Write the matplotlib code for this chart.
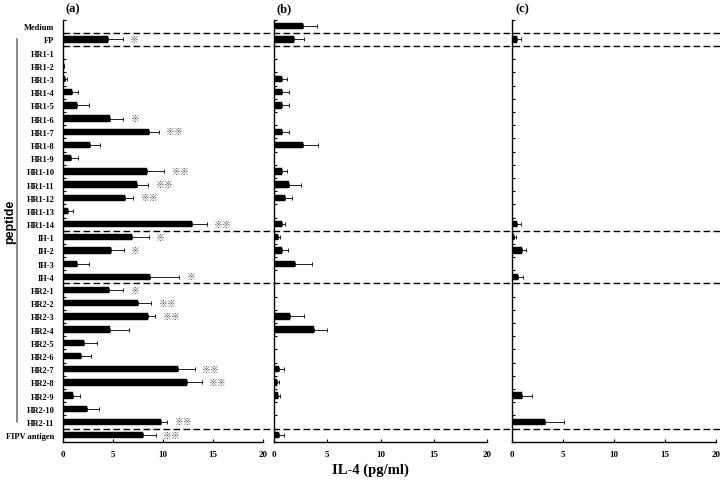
import numpy as np
import matplotlib
matplotlib.use("Agg")
import matplotlib.pyplot as plt
import matplotlib.transforms as mtransforms
from matplotlib.lines import Line2D

categories = ["Medium", "FP",
              "HR1-1", "HR1-2", "HR1-3", "HR1-4", "HR1-5", "HR1-6", "HR1-7",
              "HR1-8", "HR1-9", "HR1-10", "HR1-11", "HR1-12", "HR1-13", "HR1-14",
              "IH-1", "IH-2", "IH-3", "IH-4",
              "HR2-1", "HR2-2", "HR2-3", "HR2-4", "HR2-5", "HR2-6", "HR2-7",
              "HR2-8", "HR2-9", "HR2-10", "HR2-11", "FIPV antigen"]

# panel (a)
a_val = [0, 4.55, 0, 0.1, 0.25, 0.9, 1.46, 4.72, 8.6, 2.69, 0.86, 8.37, 7.38, 6.18,
         0.56, 12.86, 6.88, 4.78, 1.46, 8.67, 4.65, 7.54, 8.54, 4.72, 2.13, 1.83,
         11.46, 12.36, 1.06, 2.46, 9.83, 8.04]
a_err = [0, 1.43, 0, 0.05, 0.15, 0.6, 1.2, 1.33, 1.0, 1.06, 0.67, 1.76, 1.16, 0.86,
         0.47, 1.49, 1.69, 1.3, 1.2, 2.96, 1.4, 1.3, 0.7, 1.86, 1.33, 0.96,
         1.73, 1.49, 0.63, 1.19, 0.6, 1.26]
a_sig = [0, 1, 0, 0, 0, 0, 0, 1, 2, 0, 0, 2, 2, 2, 0, 2, 1, 1, 0, 1, 1, 2, 2, 0, 0, 0,
         2, 2, 0, 0, 2, 2]

# panel (b)
b_val = [2.67, 1.88, 0, 0, 0.69, 0.75, 0.75, 0, 0.75, 2.67, 0, 0.69, 1.35, 1.04, 0,
         0.72, 0.31, 0.69, 1.91, 0, 0, 0, 1.51, 3.73, 0, 0, 0.47, 0.25, 0.35, 0, 0,
         0.47]
b_err = [1.32, 0.94, 0, 0, 0.47, 0.6, 0.6, 0, 0.6, 1.47, 0, 0.53, 1.13, 0.59, 0,
         0.32, 0.19, 0.57, 1.67, 0, 0, 0, 1.31, 1.23, 0, 0, 0.44, 0.19, 0.15, 0, 0,
         0.44]

# panel (c)
c_val = [0, 0.46, 0, 0, 0, 0, 0, 0, 0, 0, 0, 0, 0, 0, 0, 0.46, 0.23, 0.95, 0, 0.62,
         0, 0, 0, 0, 0, 0, 0, 0, 1.01, 0, 3.27, 0]
c_err = [0, 0.39, 0, 0, 0, 0, 0, 0, 0, 0, 0, 0, 0, 0, 0, 0.46, 0.17, 0.42, 0, 0.49,
         0, 0, 0, 0, 0, 0, 0, 0, 0.92, 0, 1.86, 0]

panel_titles = ["(a)", "(b)", "(c)"]
x_ticks = [0, 5, 10, 15, 20]
group_breaks = [0.5, 1.5, 15.5, 19.5, 30.5]
xlabel = "IL-4 (pg/ml)"
ylabel = "peptide"

SERIF = "Liberation Serif"
W, H = 720, 481
fig = plt.figure(figsize=(7.2, 4.81), dpi=100)

def frac_rect(x0, x1, ytop, ybot):
    return [x0 / W, (H - ybot) / H, (x1 - x0) / W, (ybot - ytop) / H]

rects = [frac_rect(62.7, 263.3, 20.7, 442.7),
         frac_rect(274.3, 486.7, 20.7, 442.7),
         frac_rect(512.0, 716.0, 20.7, 442.7)]

data = [(a_val, a_err), (b_val, b_err), (c_val, c_err)]
n = len(categories)
ypos = np.arange(n)
axes = []
for i, (r, (vals, errs)) in enumerate(zip(rects, data)):
    ax = fig.add_axes(r)
    axes.append(ax)
    vals = np.array(vals, dtype=float)
    errs = np.array(errs, dtype=float)
    m = vals > 0
    ax.barh(ypos[m], vals[m], height=0.48, color="black", edgecolor="black",
            linewidth=0.3)
    ax.errorbar(vals[m], ypos[m], xerr=[np.zeros(m.sum()), errs[m]], fmt="none",
                ecolor="#222222", elinewidth=0.7, capsize=1.6, capthick=0.7)
    ax.set_xlim(0, 20)
    ax.set_ylim(n - 0.5, -0.5)
    for s in ("top", "right"):
        ax.spines[s].set_visible(False)
    for s in ("left", "bottom"):
        ax.spines[s].set_linewidth(1.0)
    ax.set_xticks(x_ticks)
    ax.set_xticklabels([str(t) for t in x_ticks], fontfamily=SERIF,
                       fontweight="bold", fontsize=6.5)
    ax.tick_params(axis="x", direction="in", length=2.5, width=0.8, pad=6)
    ax.set_yticks(ypos)
    ax.set_yticks(np.arange(-0.5, n, 1.0), minor=True)
    ax.tick_params(axis="y", which="major", length=0, pad=6)
    ax.tick_params(axis="y", which="minor", direction="in", length=2.5, width=0.8)
    if i == 0:
        ax.set_yticklabels(categories, fontfamily=SERIF, fontweight="bold",
                           fontsize=6)
        for y, v, e, s in zip(ypos, vals, errs, a_sig):
            if s:
                ax.text(v + e + 0.7, y, "\u203b" * s, fontsize=6.5,
                        family=["Noto Sans CJK JP", "DejaVu Sans"],
                        color="#444444", va="center", ha="left")
    else:
        ax.set_yticklabels([])
    fig.text(r[0] + 10 / W, 1 - 9 / H, panel_titles[i], fontfamily=SERIF,
             fontweight="bold", fontsize=9, ha="center", va="center")

# dashed group separators across all panels
trans = mtransforms.blended_transform_factory(fig.transFigure, axes[0].transData)
for yb in group_breaks:
    fig.add_artist(Line2D([62.7 / W, 1.0], [yb, yb], transform=trans,
                          color="black", linewidth=1.0, linestyle=(0, (4.8, 2.4))))

# peptide bracket
fig.add_artist(Line2D([16.7 / W, 16.7 / W], [1.0, 30.0], transform=trans,
                      color="#777777", linewidth=1.2))
fig.text(10 / W, 1 - 222 / H, ylabel, rotation=90,
         family=["Liberation Sans", "DejaVu Sans"],
         fontweight="bold", fontsize=9, ha="center", va="center")

fig.text(370 / W, 1 - 470 / H, xlabel, fontfamily=SERIF, fontweight="bold",
         fontsize=10.5, ha="center", va="center")

fig.savefig("out.png", dpi=100)
